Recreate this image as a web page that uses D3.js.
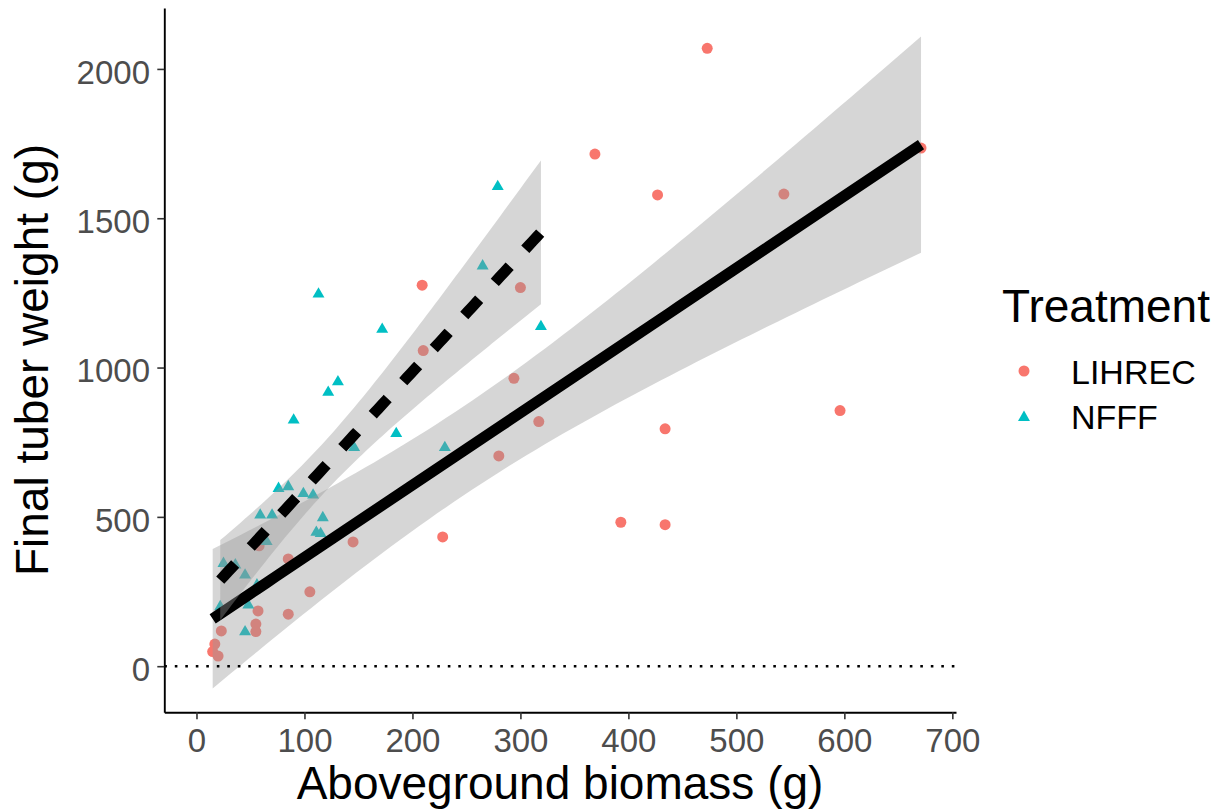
<!DOCTYPE html>
<html>
<head>
<meta charset="utf-8">
<script src="https://cdn.jsdelivr.net/npm/d3@7"></script>
<style>
  html, body { margin: 0; padding: 0; background: #fff; }
  svg { display: block; font-family: "Liberation Sans", Arial, sans-serif; }
</style>
</head>
<body>
<svg id="chart" width="1222" height="812"></svg>
<script>
// Aboveground biomass (g) vs final tuber weight (g), by site
const lihrecX = [473, 671, 369, 427, 544, 209, 300, 210, 294, 317, 280, 434, 596, 393, 434, 228, 145, 85, 105, 57, 85, 55, 55, 23, 17, 15, 20, 58];
const lihrecY = [2069, 1735, 1715, 1578, 1581, 1276, 1268, 1057, 964, 819, 704, 795, 856, 482, 474, 433, 416, 359, 249, 185, 174, 141, 116, 118, 74, 49, 34, 403];
const nfffX = [279, 113, 265, 319, 172, 131, 122, 90, 185, 146, 230, 76, 85, 99, 108, 59, 70, 117, 111, 115, 65, 25, 36, 45, 56, 22, 48, 45];
const nfffY = [1606, 1246, 1340, 1137, 1128, 952, 917, 824, 779, 732, 732, 595, 601, 578, 573, 506, 506, 497, 448, 444, 417, 344, 339, 305, 272, 199, 205, 115];

const groups = ["LIHREC", "NFFF"];
const groupColors = ["#F8766D", "#00BFC4"];
const xTicks = [0, 100, 200, 300, 400, 500, 600, 700];
const yTicks = [0, 500, 1000, 1500, 2000];

const series = [
  { name: groups[0], xs: lihrecX, ys: lihrecY, color: groupColors[0], dash: null },
  { name: groups[1], xs: nfffX, ys: nfffY, color: groupColors[1], dash: "22 23" }
];

const svg = d3.select("#chart");
const x = d3.scaleLinear().domain([-29.8, 703.4]).range([164.3, 956]);
const y = d3.scaleLinear().domain([-154.4, 2204]).range([712.3, 8]);

// Student t quantile via Cornish-Fisher expansion (two-sided 95%)
function tQuantile975(df) {
  const z = 1.959964;
  const z3 = z ** 3, z5 = z ** 5, z7 = z ** 7;
  return z + (z3 + z) / (4 * df)
    + (5 * z5 + 16 * z3 + 3 * z) / (96 * df * df)
    + (3 * z7 + 19 * z5 + 17 * z3 - 15 * z) / (384 * df ** 3);
}

// Ordinary least squares fit with 95% confidence band, evaluated on 80 points
function lmFit(xs, ys) {
  const n = xs.length;
  const mx = d3.mean(xs), my = d3.mean(ys);
  let sxx = 0, sxy = 0;
  for (let i = 0; i < n; i++) {
    sxx += (xs[i] - mx) ** 2;
    sxy += (xs[i] - mx) * (ys[i] - my);
  }
  const b = sxy / sxx, a = my - b * mx;
  let sse = 0;
  for (let i = 0; i < n; i++) sse += (ys[i] - a - b * xs[i]) ** 2;
  const s = Math.sqrt(sse / (n - 2));
  const t = tQuantile975(n - 2);
  const [lo, hi] = d3.extent(xs);
  return d3.range(80).map(k => {
    const xv = lo + (hi - lo) * k / 79;
    const fit = a + b * xv;
    const se = s * Math.sqrt(1 / n + (xv - mx) ** 2 / sxx);
    return { x: xv, fit, lower: fit - t * se, upper: fit + t * se };
  });
}

const trianglePath = (cx, cy, r) => {
  const h = r * 0.866;
  return `M${cx},${cy - r}L${cx + h},${cy + r / 2}L${cx - h},${cy + r / 2}Z`;
};

// Points
const pts = svg.append("g");
series.forEach((sr, gi) => {
  sr.xs.forEach((xv, i) => {
    if (gi === 0) {
      pts.append("circle")
        .attr("cx", x(xv)).attr("cy", y(sr.ys[i])).attr("r", 5.5)
        .attr("fill", sr.color);
    } else {
      pts.append("path")
        .attr("d", trianglePath(x(xv), y(sr.ys[i]), 6.9))
        .attr("fill", sr.color);
    }
  });
});

// Regression ribbons and lines
const area = d3.area().x(d => x(d.x)).y0(d => y(d.lower)).y1(d => y(d.upper));
const line = d3.line().x(d => x(d.x)).y(d => y(d.fit));
series.forEach(sr => {
  const fit = lmFit(sr.xs, sr.ys);
  svg.append("path").attr("d", area(fit))
    .attr("fill", "#999999").attr("fill-opacity", 0.4);
  const ln = svg.append("path").attr("d", line(fit))
    .attr("fill", "none").attr("stroke", "#000").attr("stroke-width", 11)
    .attr("stroke-linecap", "butt");
  if (sr.dash) ln.attr("stroke-dasharray", sr.dash);
});

// Dotted reference line at zero
svg.append("line")
  .attr("x1", x.range()[0]).attr("x2", x.range()[1])
  .attr("y1", y(0)).attr("y2", y(0))
  .attr("stroke", "#000").attr("stroke-width", 2.6)
  .attr("stroke-dasharray", "2.6 7.9");

// Axes
const xAxis = svg.append("g").attr("transform", `translate(0,${y.range()[0]})`)
  .call(d3.axisBottom(x).tickValues(xTicks).tickFormat(d3.format("d"))
    .tickSize(7).tickSizeOuter(0).tickPadding(9));
const yAxis = svg.append("g").attr("transform", `translate(${x.range()[0]},0)`)
  .call(d3.axisLeft(y).tickValues(yTicks).tickFormat(d3.format("d"))
    .tickSize(7).tickSizeOuter(0).tickPadding(7.3));
[xAxis, yAxis].forEach(ax => {
  ax.select(".domain").attr("stroke", "#000").attr("stroke-width", 1.9);
  ax.selectAll(".tick line").attr("stroke", "#333").attr("stroke-width", 1.6);
  ax.selectAll(".tick text").attr("fill", "#4D4D4D")
    .style("font-size", "33px").style("font-family", "'Liberation Sans', Arial, sans-serif");
});
yAxis.selectAll(".tick text").attr("dy", "0.43em");

// Axis titles
svg.append("text").attr("x", 560).attr("y", 799)
  .attr("text-anchor", "middle").attr("font-size", 46).attr("fill", "#000")
  .text("Aboveground biomass (g)");
svg.append("text").attr("transform", "translate(48,360) rotate(-90)")
  .attr("text-anchor", "middle").attr("font-size", 46).attr("fill", "#000")
  .text("Final tuber weight (g)");

// Legend
const lg = svg.append("g");
lg.append("text").attr("x", 1002).attr("y", 322)
  .attr("font-size", 46).attr("fill", "#000").text("Treatment");
lg.append("circle").attr("cx", 1024).attr("cy", 371).attr("r", 5.5).attr("fill", groupColors[0]);
lg.append("path").attr("d", trianglePath(1024, 417.5, 6.9)).attr("fill", groupColors[1]);
lg.append("text").attr("x", 1071).attr("y", 384).attr("font-size", 34).attr("fill", "#000").text(groups[0]);
lg.append("text").attr("x", 1071).attr("y", 429).attr("font-size", 34).attr("fill", "#000").text(groups[1]);
</script>
</body>
</html>
